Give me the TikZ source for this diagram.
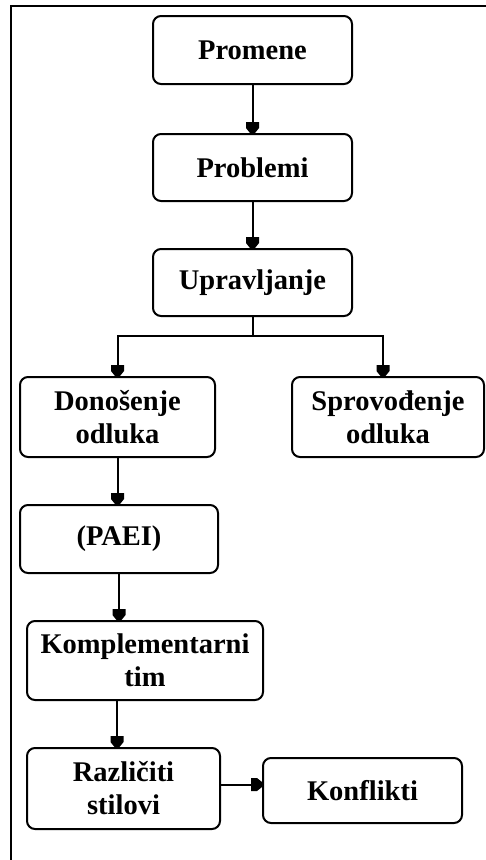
\documentclass[tikz,border=0pt]{standalone}
\usepackage{fontspec}
\setmainfont{Liberation Serif}
\usetikzlibrary{arrows.meta}

% small filled trapezoid tip: wide flat back, tapered point
\pgfdeclarearrow{
  name = Trap,
  setup code = {
    \pgfarrowssettipend{0pt}
    \pgfarrowssetlineend{-6pt}
    \pgfarrowssetbackend{-11pt}
    \pgfarrowssetvisualbackend{-11pt}
  },
  drawing code = {
    \pgfpathmoveto{\pgfqpoint{0pt}{2.5pt}}
    \pgfpathlineto{\pgfqpoint{-5pt}{6.5pt}}
    \pgfpathlineto{\pgfqpoint{-11pt}{6.5pt}}
    \pgfpathlineto{\pgfqpoint{-11pt}{-6.5pt}}
    \pgfpathlineto{\pgfqpoint{-5pt}{-6.5pt}}
    \pgfpathlineto{\pgfqpoint{0pt}{-2.5pt}}
    \pgfpathclose
    \pgfusepathqfill
  }
}

\begin{document}
\begin{tikzpicture}[x=1pt,y=-1pt,
  box/.style={draw, line width=2pt, rounded corners=8pt, align=center,
    font=\fontsize{28.5}{33}\selectfont\bfseries, inner sep=0pt},
  link/.style={draw, line width=2pt, -{Trap}}]
  \useasboundingbox (0,0) rectangle (485,860);

  % frame lines along the top and left edges
  \draw[line width=2pt] (11,861) -- (11,6) -- (486,6);

  \node[box, minimum width=199, minimum height=68] (prom) at (252.5,50) {Promene};
  \node[box, minimum width=199, minimum height=67] (prob) at (252.5,167.5) {Problemi};
  \node[box, minimum width=199, minimum height=67] (upr)  at (252.5,282.5) {Upravljanje};
  \node[box, minimum width=195, minimum height=80] (don)  at (117.5,417) {Donošenje\\odluka};
  \node[box, minimum width=192, minimum height=80] (spr)  at (388,417) {Sprovođenje\\odluka};
  \node[box, minimum width=198, minimum height=68] (paei) at (119,539) {(PAEI)};
  \node[box, minimum width=236, minimum height=79] (kom)  at (145,660.5) {Komplementarni\\tim};
  \node[box, minimum width=193, minimum height=81] (raz)  at (123.5,788.5) {Različiti\\stilovi};
  \node[box, minimum width=199, minimum height=65] (kon)  at (362.5,790.5) {Konflikti};

  \coordinate (fork) at (upr.south |- 0,336);

  \draw[link] (prom.south) -- (prob.north);
  \draw[link] (prob.south) -- (upr.north);
  \draw[line width=2pt] (upr.south) -- (fork);
  \draw[link] (fork) -| (don.north);
  \draw[link] (fork) -| ([xshift=-5]spr.north);
  \draw[link] (don.south) -- (don.south |- paei.north);
  \draw[link] (paei.south) -- (paei.south |- kom.north);
  \draw[link] ([xshift=-28]kom.south) -- ([xshift=-28]kom.south |- raz.north);
  \draw[link] ([yshift=4]raz.east) -- ([yshift=4]raz.east -| kon.west);
\end{tikzpicture}
\end{document}
